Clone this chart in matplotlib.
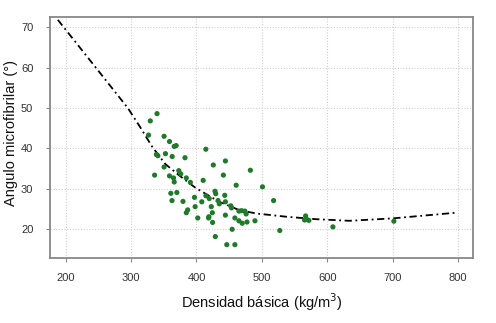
import matplotlib
matplotlib.use("Agg")
import matplotlib.pyplot as plt

plt.rcParams['font.family'] = ['Liberation Sans', 'DejaVu Sans']

# Scatter data: basic density (kg/m3) vs microfibril angle (deg)
density = [339.7, 329.4, 326.8, 350.5, 358.8, 366, 369, 338.7, 341, 352.6,
           362.9, 382.5, 414.4, 350.5, 336, 358.8, 365, 366, 373, 376,
           384.5, 390.7, 425.8, 444.3, 441.2, 410.3, 482.5, 460.8, 501, 360.8,
           370, 397, 414.5, 428.4, 429.5, 443.3, 362.6, 379.4, 408.2, 398,
           419.6, 422.7, 433, 435, 444.3, 452.6, 453.6, 465, 469, 474,
           476, 518, 386.6, 384.5, 419, 424.3, 418.6, 402, 444.3, 458.8,
           465, 477.3, 470, 489.5, 424.7, 454.6, 428.9, 446.4, 458.8, 527.5,
           567, 568, 572, 565.4, 608.7, 702]
angle = [48.6, 46.8, 43.3, 43.0, 41.7, 40.5, 40.7, 38.5, 38.2, 38.7,
         38.0, 37.7, 39.8, 35.4, 33.4, 33.2, 32.7, 31.7, 34.5, 33.7,
         32.7, 31.6, 35.9, 36.9, 33.4, 32.1, 34.6, 30.9, 30.5, 28.9,
         29.1, 27.9, 28.3, 29.4, 28.8, 28.4, 27.1, 26.9, 26.8, 25.6,
         27.6, 25.6, 27.1, 26.3, 26.8, 25.8, 25.3, 24.5, 24.6, 24.5,
         23.8, 27.1, 24.8, 24.1, 23.1, 24.1, 22.8, 22.8, 23.5, 22.8,
         22.1, 21.8, 21.5, 22.1, 21.7, 20.0, 18.2, 16.2, 16.2, 19.7,
         23.3, 22.5, 22.2, 22.3, 20.6, 22.0]

# Fitted curve
fit_x = [188, 246, 295, 313, 332, 352, 373, 399, 435, 466, 492, 538, 583, 634, 700, 797]
fit_y = [71.8, 60.0, 50.0, 45.5, 40.5, 36.2, 33.4, 30.2, 26.8, 24.7, 23.9, 23.1, 22.5, 22.1, 22.7, 24.1]

xticks = [200, 300, 400, 500, 600, 700, 800]
yticks = [20, 30, 40, 50, 60, 70]

fig = plt.figure(figsize=(4.96, 3.23), dpi=100)
ax = fig.add_axes([0.1008, 0.2012, 0.8528, 0.7462])

ax.set_xlim(176, 823)
ax.set_ylim(12.9, 72.5)
ax.set_xticks(xticks)
ax.set_yticks(yticks)
ax.grid(True, color='#cfcfcf', linestyle=(0, (1, 1.5)), linewidth=0.8)
ax.set_axisbelow(True)

ax.plot(fit_x, fit_y, color='black', linewidth=1.3, linestyle=(0, (4, 2, 1, 2)), zorder=3)
ax.scatter(density, angle, s=14, color='#1f7a2a', edgecolors='none', zorder=4)

for sp in ax.spines.values():
    sp.set_color('#888888')
    sp.set_linewidth(1.3)

ax.tick_params(axis='both', colors='#888888', length=3, width=0.8, labelsize=8,
               labelcolor='#333333')
ax.tick_params(axis='x', pad=8)
ax.tick_params(axis='y', pad=9)

ax.set_xlabel('Densidad básica (kg/m$^{3}$)', fontsize=10.5, color='#111111', labelpad=6)
ax.set_ylabel('Angulo microfibrilar (°)', fontsize=10.5, color='#111111',
              va='center', ha='center')
ax.yaxis.set_label_coords(-0.092, 0.52)

fig.savefig('out.png', dpi=100)
